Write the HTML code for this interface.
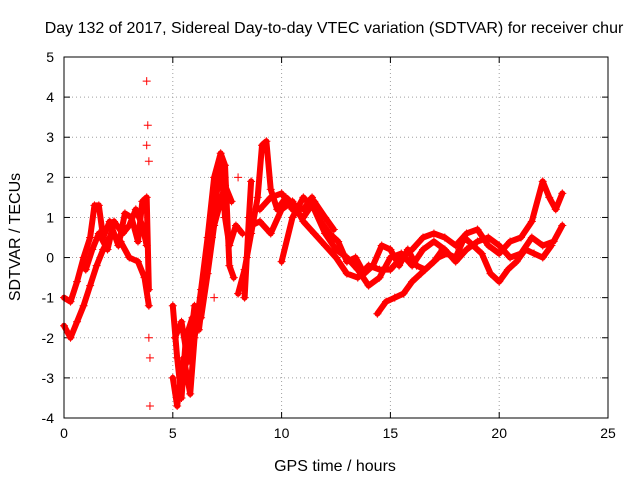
<!DOCTYPE html>
<html><head><meta charset="utf-8"><style>
body{margin:0;background:#fff;}
svg{display:block;font-family:"Liberation Sans",sans-serif;}
</style></head><body>
<svg id="chart" width="640" height="480">
<rect width="640" height="480" fill="#fff"/>
<text x="334" y="33" text-anchor="middle" font-size="16">Day 132 of 2017, Sidereal Day-to-day VTEC variation (SDTVAR) for receiver chur</text>
<text x="335" y="471" text-anchor="middle" font-size="16">GPS time / hours</text>
<text transform="translate(20,237) rotate(-90)" text-anchor="middle" font-size="16">SDTVAR / TECUs</text>
<g id="grid"></g><g id="ticks"></g><g id="marks"></g>
<rect x="64" y="57" width="544" height="361" fill="none" stroke="#000" stroke-width="1"/>
</svg>
<script>
const xTicks=[0,5,10,15,20,25];
const yTicks=[-4,-3,-2,-1,0,1,2,3,4,5];
const track1=[[0,-1.0],[0.3,-1.1],[0.6,-0.6],[0.9,0.0],[1.2,0.5],[1.4,1.3],[1.6,1.3],[1.8,0.5],[2.1,0.9],[2.5,0.3],[2.8,1.1],[3.1,1.0],[3.4,0.4],[3.6,1.4],[3.8,1.5],[3.9,-0.8]];
const track2=[[0,-1.7],[0.3,-2.0],[0.6,-1.6],[0.9,-1.2],[1.2,-0.7],[1.5,-0.2],[1.8,0.2],[2.2,0.6],[2.6,0.4],[3.0,0.0],[3.4,-0.1],[3.7,-0.5],[3.9,-1.2]];
const track10=[[1.0,-0.3],[1.3,0.2],[1.6,0.6],[2.0,0.2],[2.3,0.9],[2.7,0.6],[3.0,0.8],[3.3,1.2],[3.6,0.8],[3.8,0.3]];
const track3=[[5.0,-1.2],[5.2,-2.5],[5.4,-3.5],[5.6,-2.0],[5.9,-1.5],[6.2,-1.8],[6.5,-0.5],[6.8,0.5],[7.0,1.5],[7.2,2.5],[7.4,1.0],[7.6,0.3],[7.9,0.8],[8.2,0.6]];
const track4=[[5.0,-3.0],[5.2,-3.7],[5.5,-2.5],[5.8,-3.4],[6.0,-2.0],[6.3,-0.8],[6.6,0.5],[6.9,2.0],[7.2,2.6],[7.4,2.3],[7.6,-0.2],[7.8,-0.5]];
const track11=[[5.1,-2.0],[5.4,-1.6],[5.7,-2.6],[6.0,-1.2],[6.3,-1.5],[6.6,-0.4],[6.9,0.8],[7.1,1.2],[7.4,1.8],[7.7,1.4]];
const track5=[[8.0,-0.9],[8.3,-0.3],[8.6,0.6],[8.9,1.5],[9.1,2.8],[9.3,2.9],[9.5,1.7],[9.8,1.2],[10.2,1.5],[10.6,1.3],[11.0,1.2],[11.4,1.5],[11.8,0.9],[12.2,0.6],[12.6,0.4],[13.0,-0.1],[13.4,0.0],[13.8,-0.4],[14.2,-0.2],[14.6,0.3],[15.0,0.2],[15.4,-0.2],[15.8,0.2],[16.2,-0.2],[16.6,-0.3],[17.0,-0.1],[17.4,0.2]];
const track6=[[8.6,0.8],[9.0,0.9],[9.5,0.6],[10.0,1.2],[10.5,1.4],[11.0,0.9],[11.5,0.6],[12.0,0.3],[12.5,0.0],[13.0,-0.4],[13.5,-0.5],[14.0,-0.2],[14.5,-0.3],[15.0,-0.3],[15.5,0.0],[16.0,0.2],[16.5,0.5],[17.0,0.6],[17.5,0.5],[18.0,0.3],[18.5,0.6],[19.0,0.7],[19.5,0.3],[20.0,0.1],[20.5,0.4],[21.0,0.5],[21.5,0.9],[22.0,1.9],[22.3,1.5],[22.6,1.2],[22.9,1.6]];
const track7=[[10.0,-0.1],[10.5,1.0],[11.0,1.5],[11.5,1.2],[12.0,0.6],[12.5,0.2],[13.0,0.0],[13.5,-0.3],[14.0,-0.7],[14.5,-0.5],[15.0,0.0],[15.5,0.1],[16.0,-0.2],[16.5,0.2],[17.0,0.4],[17.5,0.2],[18.0,-0.1],[18.5,0.2],[19.0,0.4],[19.5,0.5],[20.0,0.3],[20.5,0.0],[21.0,0.1],[21.5,0.5],[22.0,0.3],[22.5,0.4],[22.9,0.8]];
const track12=[[9.0,1.2],[9.5,1.5],[10.0,1.6],[10.5,1.2],[11.0,1.0],[11.5,1.4],[12.0,1.0],[12.4,0.7]];
const track8=[[14.4,-1.4],[14.8,-1.1],[15.2,-1.0],[15.6,-0.9],[16.0,-0.6],[16.4,-0.4],[16.8,-0.2],[17.2,0.0],[17.6,0.1],[18.0,0.0],[18.4,0.5],[18.8,0.3],[19.2,0.1],[19.6,-0.4],[20.0,-0.6],[20.4,-0.3],[20.8,-0.1],[21.2,0.2],[21.6,0.1],[22.0,0.0],[22.4,0.3]];
const track9=[[8.3,-1.0],[8.4,0.0],[8.5,1.0],[8.6,1.9]];
const outliers=[[3.8,4.4],[3.85,3.3],[3.8,2.8],[3.9,2.4],[3.95,-2.5],[3.95,-3.7],[3.9,-2.0],[6.9,-1.0],[8.0,2.0]];
const tracks=[track1,track2,track10,track3,track4,track11,track5,track6,track7,track12,track8,track9];
const NS="http://www.w3.org/2000/svg";
const X0=64,X1=608,Y0=418,Y1=57;
function xs(v){return X0+(v-0)/(25-0)*(X1-X0);}
function ys(v){return Y0-(v+4)/(5+4)*(Y0-Y1);}
const grid=document.getElementById('grid'),ticks=document.getElementById('ticks'),marks=document.getElementById('marks');
function mk(t,a,p){const e=document.createElementNS(NS,t);for(const k in a)e.setAttribute(k,a[k]);p.appendChild(e);return e;}
xTicks.forEach(v=>{
 const x=xs(v);
 if(v>0&&v<25){const g=mk('line',{x1:x,x2:x,y1:Y0,y2:Y1,stroke:'#a0a0a0','stroke-dasharray':'1,3'},grid);
 
 }
 mk('line',{x1:x,x2:x,y1:Y0,y2:Y0-6,stroke:'#000'},ticks);
 mk('line',{x1:x,x2:x,y1:Y1,y2:Y1+6,stroke:'#000'},ticks);
 const t=mk('text',{x:x,y:Y0+20,'text-anchor':'middle','font-size':'14'},ticks);t.textContent=v;
 
 
});
yTicks.forEach(v=>{
 const y=ys(v);
 if(v>-4&&v<5){const g=mk('line',{x1:X0,x2:X1,y1:y,y2:y,stroke:'#a0a0a0','stroke-dasharray':'1,3'},grid);
 
 }
 mk('line',{x1:X0,x2:X0+6,y1:y,y2:y,stroke:'#000'},ticks);
 mk('line',{x1:X1,x2:X1-6,y1:y,y2:y,stroke:'#000'},ticks);
 const t=mk('text',{x:X0-10,y:y+5,'text-anchor':'end','font-size':'14'},ticks);t.textContent=v;
 
 
});
function plus(x,y){return `M${x-4},${y}h8M${x},${y-4}v8`;}
tracks.forEach((tr,i)=>{
 const pl=mk('polyline',{points:tr.map(p=>xs(p[0])+','+ys(p[1])).join(' '),fill:'none',stroke:'#ff0000','stroke-width':'6','stroke-linejoin':'round','stroke-linecap':'round'},marks);
 
 
 const p=mk('path',{d:tr.map(q=>plus(xs(q[0]),ys(q[1]))).join(''),stroke:'#ff0000','stroke-width':'1',fill:'none'},marks);
 
 
});
const op=mk('path',{d:outliers.map(q=>plus(xs(q[0]),ys(q[1]))).join(''),stroke:'#ff0000','stroke-width':'1',fill:'none'},marks);


</script>
</body></html>
